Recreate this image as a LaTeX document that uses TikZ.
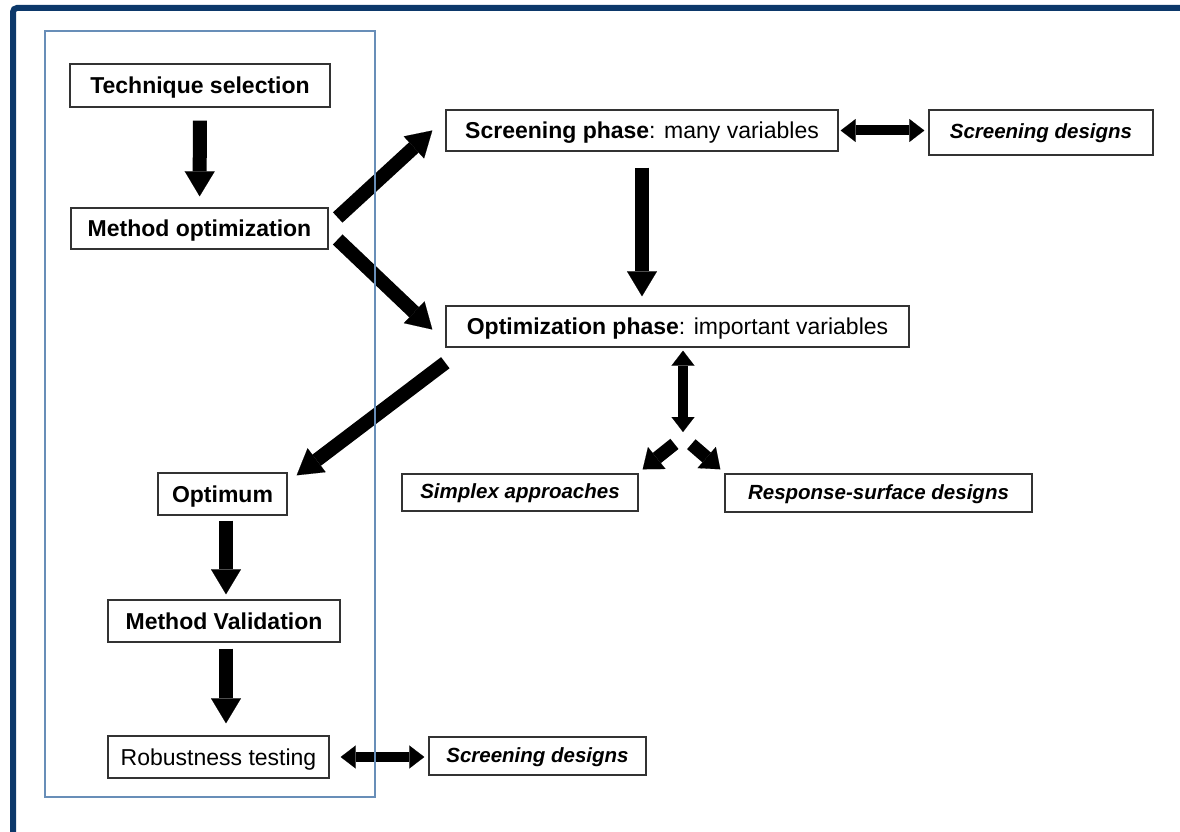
\documentclass[tikz,border=0pt]{standalone}
\usepackage{fontspec}
\setmainfont{Liberation Sans}
\usetikzlibrary{calc,arrows.meta}
\definecolor{framecol}{RGB}{12,56,106}
\definecolor{panelcol}{RGB}{104,142,184}
\def\boxfont{\fontsize{23}{27}\selectfont}
\def\designfont{\fontsize{20.5}{24}\selectfont\bfseries\itshape}
\tikzset{
	box/.style={draw=black!80, line width=1.4pt, fill=white, inner sep=0pt, font=\boxfont, text height=16.5pt, text depth=0pt},
	designbox/.style={box, font=\designfont, text height=15pt, text depth=3pt},
	blk/.style={line width=14pt, -{Triangle[length=25pt,width=30pt,line width=0.1pt]}},
	fork/.style={line width=13pt, -{Triangle[length=18pt,width=28pt,line width=0.1pt]}},
	dbl/.style={line width=10pt, {Triangle[length=15pt,width=23pt,line width=0.1pt]}-{Triangle[length=15pt,width=23pt,line width=0.1pt]}}
}

\begin{document}
\begin{tikzpicture}[x=1pt, y=-1pt]
			%%%%% START %%%%%
			\useasboundingbox (0,0) rectangle (1180,832);
			\begin{scope}
				\clip (0,0) rectangle (1180,832);
				\draw[framecol, line width=6pt, rounded corners=4pt] (13,8) rectangle (1220,880);
			\end{scope}
			
			\node[box, minimum width=260pt, minimum height=43pt] (tech) at (200,85.5) {\textbf{Technique selection}};
			\node[box, minimum width=257pt, minimum height=41pt] (mopt) at (199.5,228.5) {\textbf{Method optimization}};
			\node[box, minimum width=392pt, minimum height=41pt] (scr) at (642,130.5) {\textbf{Screening phase}: many variables};
			\node[designbox, minimum width=224pt, minimum height=45pt] (sdtop) at (1041,132.5) {Screening designs};
			\node[box, minimum width=463pt, minimum height=41pt] (opt) at (677.5,326.5) {\textbf{Optimization phase}: important variables};
			\node[box, minimum width=129pt, minimum height=42pt] (optm) at (222.5,494) {\textbf{Optimum}};
			\node[designbox, minimum width=236pt, minimum height=37pt] (simp) at (520,492.5) {Simplex approaches};
			\node[designbox, minimum width=307pt, minimum height=38pt] (resp) at (878.5,493) {Response-surface designs};
			\node[box, minimum width=232pt, minimum height=42pt] (mval) at (224,621) {\textbf{Method Validation}};
			\node[box, minimum width=221pt, minimum height=42pt] (rob) at (218.5,757) {Robustness testing};
			\node[designbox, minimum width=217pt, minimum height=38pt] (sdbot) at (537.5,756) {Screening designs};
			\coordinate (hub) at (683,437);
			
			\draw[blk, shorten <=13pt, shorten >=11pt] (tech) -- (mopt);
			\draw[blk] ([xshift=9pt,yshift=11pt]mopt.east) -- ([xshift=-13pt]scr.west);
			\draw[blk] ([xshift=9pt,yshift=-11pt]mopt.east) -- ([xshift=-13pt,yshift=-3pt]opt.west);
			\draw[blk] ([yshift=-16pt]scr.south) -- ([yshift=9pt]scr.south |- opt.north);
			\draw[dbl, shorten <=2pt, shorten >=4pt] (scr.east) -- (scr.east -| sdtop.west);
			\draw[blk] ([yshift=-15pt]opt.south west) -- ([xshift=9pt,yshift=-3pt]optm.north east);
			\draw[dbl] ([xshift=5.5pt,yshift=-3pt]opt.south) -- ([yshift=5pt]hub);
			\draw[fork, shorten <=11pt] (hub) -- ([xshift=4pt,yshift=4pt]simp.north east);
			\draw[fork, shorten <=11pt] (hub) -- ([xshift=-4pt,yshift=4pt]resp.north west);
			\draw[blk, shorten <=5pt, shorten >=5pt] ([xshift=3.5pt]optm.south) -- ([xshift=2pt]mval.north);
			\draw[blk, shorten <=6pt, shorten >=12pt] ([xshift=2pt]mval.south) -- ([xshift=7.5pt]rob.north);
			\draw[dbl, shorten <=11pt, shorten >=4pt] (rob.east) -- (rob.east -| sdbot.west);
			
			\draw[panelcol, line width=1.5pt] (45,31) rectangle (375,797);
			%%%%% END %%%%%
\end{tikzpicture}
\end{document}
